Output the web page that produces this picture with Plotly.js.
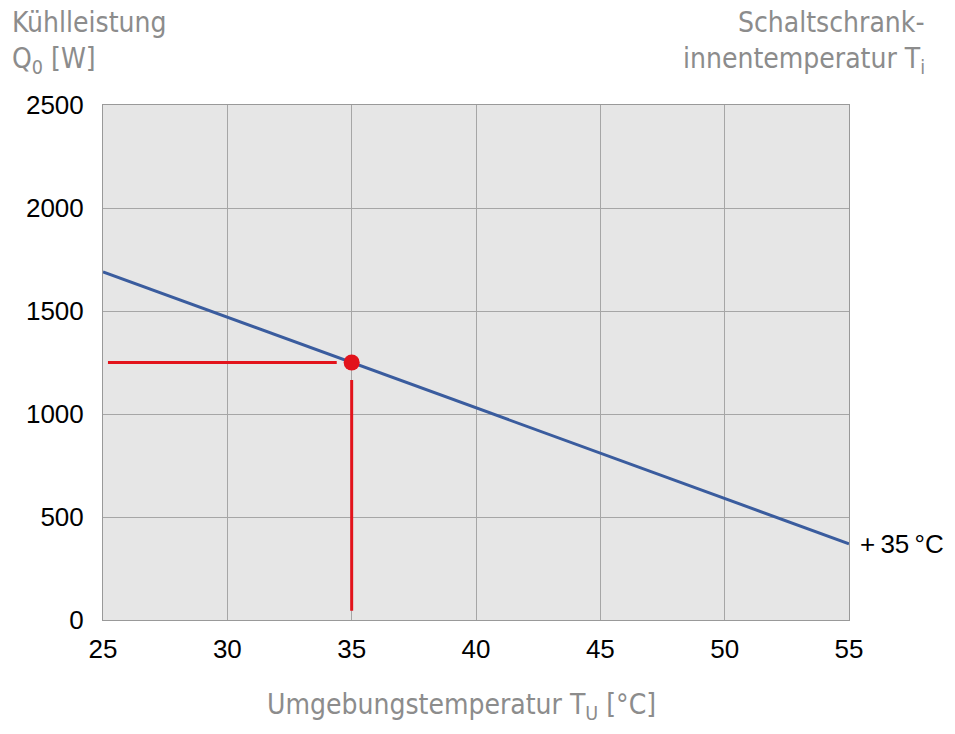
<!DOCTYPE html>
<html>
<head>
<meta charset="utf-8">
<script src="https://cdn.plot.ly/plotly-3.0.1.min.js"></script>
<style>html,body{margin:0;padding:0;background:#fff;}#chart{width:955px;height:734px;}</style>
</head>
<body>
<div id="chart"></div>
<script>
// Data
const curveTemps = [25, 55];
const curvePower = [1690, 370];
const pointTemp = [35];
const pointPower = [1250];
const hLineTemps = [25.2, 34.4];
const hLinePower = [1250, 1250];
const vLineTemps = [35, 35];
const vLinePower = [45, 1165];
const curveLabel = "+\u200935\u2009°C";
const xTicks = [25, 30, 35, 40, 45, 50, 55];
const yTicks = [0, 500, 1000, 1500, 2000, 2500];

const grayFont = {family: "'Liberation Sans Narrow', 'DejaVu Sans Condensed', Arial, sans-serif", size: 28, color: '#8c8c8c'};

const traces = [
  {x: curveTemps, y: curvePower, mode: 'lines', line: {color: '#3a5c9e', width: 3}, hoverinfo: 'skip'},
  {x: hLineTemps, y: hLinePower, mode: 'lines', line: {color: '#e2131b', width: 3}, hoverinfo: 'skip'},
  {x: vLineTemps, y: vLinePower, mode: 'lines', line: {color: '#e2131b', width: 3}, hoverinfo: 'skip'},
  {x: pointTemp, y: pointPower, mode: 'markers', marker: {color: '#e2131b', size: 16}, hoverinfo: 'skip'}
];

const layout = {
  width: 955, height: 734,
  margin: {l: 103, r: 106, t: 105, b: 114},
  paper_bgcolor: '#ffffff',
  plot_bgcolor: '#e6e6e6',
  showlegend: false,
  font: {family: 'Arial, Liberation Sans, sans-serif', size: 22, color: '#000'},
  xaxis: {
    range: [25, 55], tickvals: xTicks, ticktext: xTicks.map(String),
    showgrid: true, gridcolor: '#a6a6a6', gridwidth: 1,
    zeroline: false, showline: true, linecolor: '#999999', linewidth: 1, mirror: true,
    ticks: 'outside', ticklen: 6, tickcolor: 'rgba(0,0,0,0)', tickfont: {size: 26, color: '#000'}, fixedrange: true
  },
  yaxis: {
    range: [0, 2500], tickvals: yTicks, ticktext: yTicks.map(String),
    showgrid: true, gridcolor: '#a6a6a6', gridwidth: 1,
    zeroline: false, showline: true, linecolor: '#999999', linewidth: 1, mirror: true,
    ticks: 'outside', ticklen: 13, tickcolor: 'rgba(0,0,0,0)', tickfont: {size: 26, color: '#000'}, fixedrange: true
  },
  annotations: [
    {xref: 'x', yref: 'y', x: 55, y: 370, text: curveLabel, showarrow: false, xanchor: 'left', yanchor: 'middle', xshift: 9, font: {size: 26, color: '#000'}},
    {xref: 'paper', yref: 'paper', x: -0.125, y: 1.161, xanchor: 'left', yanchor: 'middle', showarrow: false, align: 'left', text: 'Kühlleistung', font: grayFont},
    {xref: 'paper', yref: 'paper', x: -0.125, y: 1.087, xanchor: 'left', yanchor: 'middle', showarrow: false, align: 'left', text: 'Q<sub>0</sub> [W]', font: grayFont},
    {xref: 'paper', yref: 'paper', x: 1.105, y: 1.161, xanchor: 'right', yanchor: 'middle', showarrow: false, align: 'right', text: 'Schaltschrank-', font: grayFont},
    {xref: 'paper', yref: 'paper', x: 1.105, y: 1.087, xanchor: 'right', yanchor: 'middle', showarrow: false, align: 'right', text: 'innentemperatur T<sub>i</sub>', font: grayFont},
    {xref: 'paper', yref: 'paper', x: 0.48, y: -0.168, xanchor: 'center', yanchor: 'middle', showarrow: false, text: 'Umgebungstemperatur T<sub>U</sub> [°C]', font: grayFont}
  ]
};

Plotly.newPlot('chart', traces, layout, {displayModeBar: false, staticPlot: true});
</script>
</body>
</html>
